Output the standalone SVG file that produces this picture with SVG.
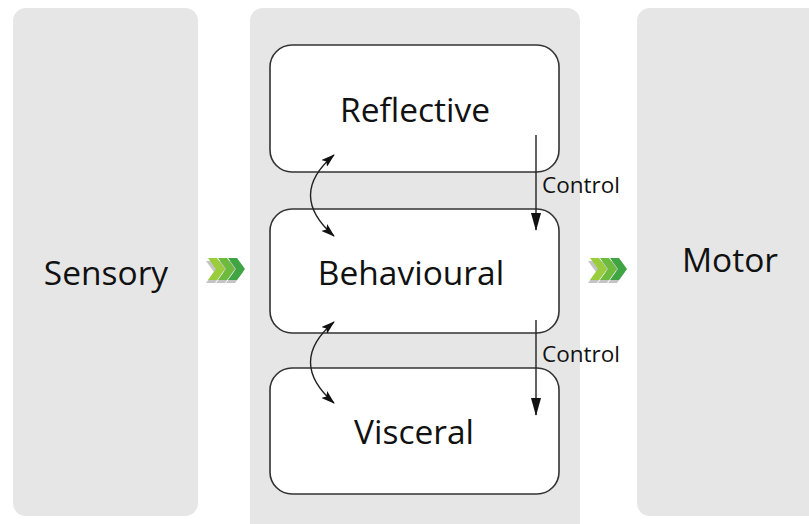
<svg xmlns="http://www.w3.org/2000/svg" width="809" height="524" viewBox="0 0 809 524">
<style>
.panel{fill:#e6e6e6}
.box{fill:#ffffff;stroke:#333333;stroke-width:1.6}
.lbl{font-family:"Open Sans","Noto Sans",sans-serif;fill:#111111;text-anchor:middle}
.big{font-size:33.5px}
.ctl{font-family:"Open Sans","Noto Sans",sans-serif;fill:#111111;font-size:22.5px}
.conn{fill:none;stroke:#222222;stroke-width:1.4}
</style>
<defs>
<marker id="head" viewBox="0 0 14 9" refX="13" refY="4.5" markerWidth="14" markerHeight="9" markerUnits="userSpaceOnUse" orient="auto-start-reverse">
<path d="M0,0 L14,4.5 L0,9 L3,4.5 Z" fill="#111111"/>
</marker>
<marker id="chead" viewBox="0 0 18 10" refX="17" refY="5" markerWidth="18" markerHeight="10" markerUnits="userSpaceOnUse" orient="auto">
<path d="M0,0 L18,5 L0,10 Z" fill="#111111"/>
</marker>
<polygon id="chev" points="0,0 9,0 17,11 9,22 0,22 8,11"/>
</defs>
<rect width="809" height="524" fill="#ffffff"/>
<g id="sensory">
<rect class="panel" x="13" y="8" width="185" height="508" rx="13"/>
<text class="lbl big" x="106" y="285">Sensory</text>
</g>
<g id="middle">
<rect class="panel" x="250" y="8" width="330" height="530" rx="13"/>
</g>
<g id="motor">
<rect class="panel" x="637" y="8" width="190" height="508" rx="13"/>
<text class="lbl big" x="730" y="272">Motor</text>
</g>
<g id="reflective">
<rect class="box" x="270" y="45" width="289" height="127" rx="22"/>
<text class="lbl big" x="415" y="122">Reflective</text>
</g>
<g id="behavioural">
<rect class="box" x="270" y="209" width="289" height="124" rx="22"/>
<text class="lbl big" x="411" y="285">Behavioural</text>
</g>
<g id="visceral">
<rect class="box" x="270" y="368" width="289" height="126" rx="22"/>
<text class="lbl big" x="414" y="444">Visceral</text>
</g>
<g id="chevrons-left">
<g fill="#c4c4c4" transform="translate(206,261)"><use href="#chev"/><use href="#chev" x="10"/><use href="#chev" x="20"/></g>
<g transform="translate(208,258)">
<use href="#chev" fill="#9acd3c"/><use href="#chev" x="10" fill="#6cbb3c"/><use href="#chev" x="20" fill="#3fa543"/>
</g>
</g>
<g id="chevrons-right">
<g fill="#c4c4c4" transform="translate(588,261)"><use href="#chev"/><use href="#chev" x="10"/><use href="#chev" x="20"/></g>
<g transform="translate(590,258)">
<use href="#chev" fill="#9acd3c"/><use href="#chev" x="10" fill="#6cbb3c"/><use href="#chev" x="20" fill="#3fa543"/>
</g>
</g>
<g id="connectors">
<path class="conn" d="M334,155 Q287,195 334,236" marker-start="url(#head)" marker-end="url(#head)"/>
<path class="conn" d="M334,322 Q287,362 334,403" marker-start="url(#head)" marker-end="url(#head)"/>
<path class="conn" d="M536,135 L536,230" marker-end="url(#chead)"/>
<path class="conn" d="M536,320 L536,415" marker-end="url(#chead)"/>
<text class="ctl" x="542" y="193">Control</text>
<text class="ctl" x="542" y="362">Control</text>
</g>
</svg>
